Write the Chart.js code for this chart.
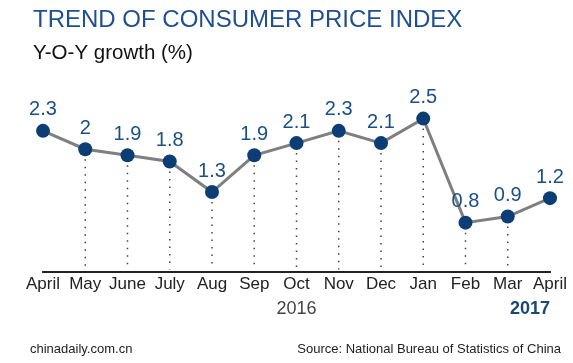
<!DOCTYPE html>
<html>
<head>
<meta charset="utf-8">
<script src="https://cdn.jsdelivr.net/npm/chart.js@4"></script>
<style>
  html, body { margin: 0; padding: 0; background: #fff; }
  #wrap { position: relative; width: 573px; height: 363px; }
</style>
</head>
<body>
<div id="wrap"><canvas id="cpiChart"></canvas></div>
<script>
const months = ["April", "May", "June", "July", "Aug", "Sep", "Oct", "Nov", "Dec", "Jan", "Feb", "Mar", "April"];
const growth = [2.3, 2.0, 1.9, 1.8, 1.3, 1.9, 2.1, 2.3, 2.1, 2.5, 0.8, 0.9, 1.2];
const valueLabels = ["2.3", "2", "1.9", "1.8", "1.3", "1.9", "2.1", "2.3", "2.1", "2.5", "0.8", "0.9", "1.2"];
const years = [{ text: "2016", at: 6, bold: false }, { text: "2017", at: 12, bold: true }];

const FONT = "'Liberation Sans', Arial, sans-serif";

// dotted drop lines, value labels, titles, years, footer
const extras = {
  id: "extras",
  beforeDatasetsDraw(chart) {
    const ctx = chart.ctx;
    const pts = chart.getDatasetMeta(0).data;
    const bottom = chart.chartArea.bottom;
    ctx.save();
    ctx.strokeStyle = "#444";
    ctx.lineWidth = 1.5;
    ctx.setLineDash([1.5, 6]);
    for (let i = 1; i < pts.length - 1; i++) {
      ctx.beginPath();
      ctx.moveTo(pts[i].x, pts[i].y + 10);
      ctx.lineTo(pts[i].x, bottom - 2);
      ctx.stroke();
    }
    ctx.restore();
  },
  afterDatasetsDraw(chart) {
    const ctx = chart.ctx;
    const pts = chart.getDatasetMeta(0).data;
    ctx.save();
    ctx.fillStyle = "#1b4f87";
    ctx.font = "20px " + FONT;
    ctx.textAlign = "center";
    ctx.textBaseline = "middle";
    pts.forEach((p, i) => ctx.fillText(valueLabels[i], p.x, p.y - 21));
    ctx.restore();
  },
  afterDraw(chart) {
    const ctx = chart.ctx;
    const xs = chart.scales.x;
    ctx.save();
    ctx.textBaseline = "middle";
    ctx.textAlign = "left";
    ctx.fillStyle = "#1f4f8e";
    ctx.font = "24px " + FONT;
    ctx.fillText("TREND OF CONSUMER PRICE INDEX", 33, 20);
    ctx.fillStyle = "#111";
    ctx.font = "20.5px " + FONT;
    ctx.fillText("Y-O-Y growth (%)", 33, 53);

    years.forEach(y => {
      ctx.font = (y.bold ? "bold " : "") + "18px " + FONT;
      ctx.fillStyle = y.bold ? "#1b4778" : "#444";
      ctx.textAlign = y.bold ? "right" : "center";
      const x = y.bold ? xs.getPixelForValue(y.at) : xs.getPixelForValue(y.at);
      ctx.fillText(y.text, x, 309);
    });

    ctx.fillStyle = "#222";
    ctx.font = "13px " + FONT;
    ctx.textAlign = "left";
    ctx.fillText("chinadaily.com.cn", 30, 349);
    ctx.textAlign = "right";
    ctx.fillText("Source: National Bureau of Statistics of China", 561, 349);
    ctx.restore();
  }
};

new Chart(document.getElementById("cpiChart"), {
  type: "line",
  data: {
    labels: months,
    datasets: [{
      data: growth,
      borderColor: "#7f7f7f",
      borderWidth: 3,
      pointBackgroundColor: "#0c3e75",
      pointBorderColor: "#0c3e75",
      pointRadius: 7,
      pointBorderWidth: 0,
      tension: 0,
      clip: false
    }]
  },
  options: {
    responsive: true,
    maintainAspectRatio: false,
    animation: false,
    devicePixelRatio: 1,
    layout: { padding: { left: 43, right: 23, top: 88, bottom: 65 } },
    plugins: { legend: { display: false }, tooltip: { enabled: false } },
    scales: {
      x: {
        offset: false,
        grid: { display: false, drawTicks: false },
        border: { display: true, color: "#222", width: 2 },
        ticks: { color: "#222", font: { size: 17, family: FONT }, padding: 3, maxRotation: 0, autoSkip: false }
      },
      y: {
        display: false,
        min: 0,
        max: 3
      }
    }
  },
  plugins: [extras]
});
</script>
</body>
</html>
